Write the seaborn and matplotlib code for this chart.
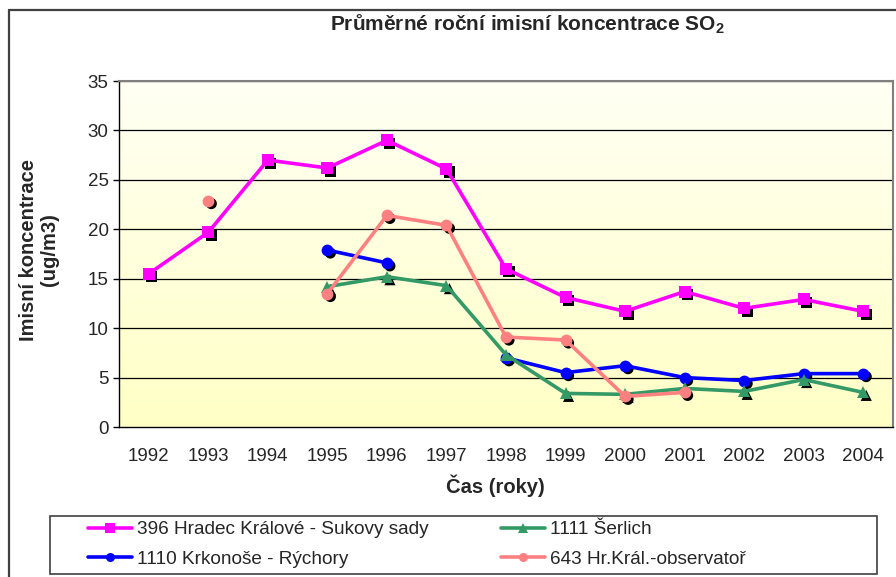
import numpy as np
import pandas as pd
import matplotlib
matplotlib.use("Agg")
import matplotlib.pyplot as plt
import seaborn as sns
from matplotlib.transforms import ScaledTranslation
from matplotlib.lines import Line2D
from matplotlib.patches import Rectangle
from matplotlib.colors import LinearSegmentedColormap

# ---------------- data ----------------
years = [1992, 1993, 1994, 1995, 1996, 1997, 1998, 1999, 2000, 2001, 2002, 2003, 2004]
nan = np.nan
hk_396 = [15.5, 19.7, 27.0, 26.2, 29.0, 26.1, 16.0, 13.1, 11.7, 13.7, 12.0, 12.9, 11.7]
krk_1110 = [nan, nan, nan, 17.9, 16.6, nan, 7.0, 5.5, 6.2, 5.0, 4.7, 5.4, 5.4]
serlich_1111 = [nan, nan, nan, 14.2, 15.2, 14.3, 7.3, 3.4, 3.3, 3.9, 3.6, 4.8, 3.5]
obs_643 = [nan, 22.9, nan, 13.5, 21.4, 20.4, 9.1, 8.8, 3.1, 3.5, nan, nan, nan]

series_names = ["396 Hradec Králové - Sukovy sady", "1110 Krkonoše - Rýchory",
                "1111 Šerlich", "643 Hr.Král.-observatoř"]
series_values = [hk_396, krk_1110, serlich_1111, obs_643]
colors = ["#FF00FF", "#0000FF", "#339966", "#FF8080"]
marker_shapes = ["s", "o", "^", "o"]

title = "Průměrné roční imisní koncentrace SO$_{\\mathbf{2}}$"
xlabel = "Čas (roky)"
ylabel = "Imisní koncentrace\n(ug/m3)"

# ---------------- long table with contiguous segments ----------------
rows = []
for name, vals in zip(series_names, series_values):
    seg = 0
    prev_ok = False
    for i, v in enumerate(vals):
        if np.isnan(v):
            if prev_ok:
                seg += 1
            prev_ok = False
            continue
        rows.append({"series": name, "pos": i, "value": v, "seg": f"{name}-{seg}"})
        prev_ok = True
df = pd.DataFrame(rows)

palette = dict(zip(series_names, colors))
markers = dict(zip(series_names, marker_shapes))

# ---------------- style ----------------
sns.set_style("white")
plt.rcParams["font.family"] = ["Liberation Sans", "DejaVu Sans"]
plt.rcParams["mathtext.fontset"] = "custom"
plt.rcParams["mathtext.rm"] = "Liberation Sans"
plt.rcParams["mathtext.bf"] = "Liberation Sans:bold"

W, H = 896, 577
fig = plt.figure(figsize=(W / 100, H / 100), dpi=100)
fig.patch.set_facecolor("white")

L, R, T, B = 119, 893, 81, 427
ax = fig.add_axes([L / W, 1 - B / H, (R - L) / W, (B - T) / H])

# gradient background
cmap = LinearSegmentedColormap.from_list("bg", ["#FFFFF4", "#FFFFC6"])
grad = np.linspace(0, 1, 256).reshape(-1, 1)
ax.imshow(grad, extent=[0, 1, 0, 1], transform=ax.transAxes, aspect="auto",
          cmap=cmap, zorder=0, origin="upper")

ax.set_xlim(-0.5, len(years) - 0.5)
ax.set_ylim(0, 35)
yticks = list(range(0, 36, 5))
ax.set_yticks(yticks)
for yv in yticks[1:]:
    ax.axhline(yv, color="black", lw=0.9, zorder=1)

# shadows
offset = ax.transData + ScaledTranslation(3 / 100, -3 / 100, fig.dpi_scale_trans)
sns.scatterplot(data=df, x="pos", y="value", style="series", markers=markers,
                style_order=series_names, color="black", s=64, linewidth=0,
                legend=False, ax=ax, transform=offset, zorder=3)

# lines
sns.lineplot(data=df, x="pos", y="value", hue="series", style="series",
             units="seg", estimator=None, hue_order=series_names,
             style_order=series_names, palette=palette, markers=markers,
             dashes=False, markersize=8.5, markeredgewidth=0, linewidth=2.6,
             legend=False, ax=ax, zorder=4, sort=True)

# axes styling
ax.set_xlabel("")
ax.set_ylabel("")
ax.set_xticks(range(len(years)))
ax.set_xticklabels([str(y) for y in years])
ax.set_xticks(np.arange(-0.5, len(years), 1), minor=True)
ax.tick_params(axis="x", which="major", length=0, pad=15, labelsize=13.5)
ax.tick_params(axis="x", which="minor", length=4, width=1, color="black", direction="out")
ax.tick_params(axis="y", which="major", length=4.5, width=1, color="black",
               direction="out", pad=3, labelsize=13.5, left=True)
for s in ["left", "bottom"]:
    ax.spines[s].set_color("black")
    ax.spines[s].set_linewidth(1)
for s in ["top", "right"]:
    ax.spines[s].set_color("#808080")
    ax.spines[s].set_linewidth(1.5)
for s in ax.spines.values():
    s.set_visible(True)

# texts
fig.text(527 / W, 1 - 24 / H, title, ha="center", va="center",
         fontsize=15, fontweight="bold")
fig.text(495 / W, 1 - 486 / H, xlabel, ha="center", va="center",
         fontsize=14.5, fontweight="bold")
fig.text(39 / W, 1 - 250 / H, ylabel, ha="center", va="center", rotation=90,
         fontsize=14.5, fontweight="bold", multialignment="center", linespacing=1.1)

# figure frame (left + top visible)
fig.add_artist(Line2D([9 / W, 9 / W], [0, 1 - 10 / H], transform=fig.transFigure,
                      color="#404040", lw=1.6))
fig.add_artist(Line2D([9 / W, 1], [1 - 10 / H, 1 - 10 / H], transform=fig.transFigure,
                      color="#404040", lw=1.6))

# legend box
fig.add_artist(Rectangle((50 / W, 1 - 574 / H), 827 / W, 58 / H, transform=fig.transFigure,
                         fill=False, edgecolor="#404040", lw=1.2))
handles = [Line2D([], [], color=c, marker=m, markersize=6.5, lw=2.6, markeredgewidth=0)
           for c, m in zip(colors, marker_shapes)]
fig.legend(handles, series_names, ncol=2, loc="upper left",
           bbox_to_anchor=(88 / W, 1 - 521 / H), frameon=False, borderpad=0,
           borderaxespad=0, handlelength=2.3, handletextpad=0.28, columnspacing=3.8,
           labelspacing=0.65, fontsize=13.7)

fig.savefig("out.png", dpi=100)
